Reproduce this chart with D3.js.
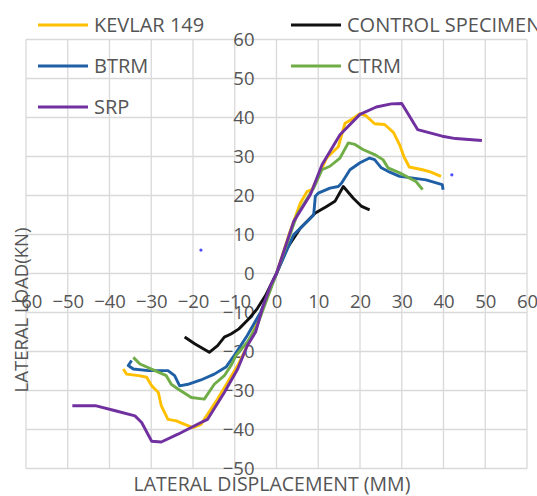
<!DOCTYPE html>
<html>
<head>
<meta charset="utf-8">
<script src="https://cdn.jsdelivr.net/npm/d3@7"></script>
<style>
  body { margin: 0; background: #fff; }
  text { font-family: "Open Sans", sans-serif; fill: #555555; }
</style>
</head>
<body>
<script>
/* series, [displacement mm, load kN] */
var kevlar = [[-36.7,-24.5],[-35.9,-25.8],[-33,-26.2],[-31.1,-26.6],[-29.9,-28.8],[-28.3,-30.5],[-27.6,-33.9],[-26,-37.4],[-24,-37.8],[-22,-38.7],[-20,-39.5],[-18.1,-38.7],[-17.3,-37.4],[-14.1,-32.2],[-11.7,-27.9],[-9.3,-23.6],[-7,-18.5],[-4,-11],[-2,-5],[0,0],[3,10],[5.7,18],[7.3,21],[8.5,21.5],[10,25],[12,29.6],[14.8,32.5],[16.4,38.5],[18,39.5],[20,41],[21.5,40.4],[23.5,38.4],[25.9,38.2],[28,36.2],[29.5,33],[30.5,30],[31.8,27.3],[35,26.6],[37,26],[39.4,24.9]];
var control = [[-22,-16.3],[-19.6,-18],[-16.1,-20.2],[-14.1,-18.5],[-12.5,-16.3],[-10.9,-15.5],[-9,-14.2],[-6.6,-11.6],[-4.6,-9],[-2.6,-5.6],[0,0],[2.5,6.4],[5.7,11.6],[9.3,15.5],[12,17.2],[14,18.5],[16,22.3],[18.4,19.3],[20.4,17.2],[22.3,16.3]];
var btrm = [[-34.7,-22.3],[-35.5,-23.6],[-34.3,-24.5],[-30.7,-24.9],[-26,-24.9],[-24.4,-26.2],[-23.2,-28.8],[-21.2,-28.4],[-18.1,-27.3],[-14.9,-25.8],[-12.1,-24],[-10.1,-21],[-7,-15.9],[-3.8,-9.9],[0,0],[4.1,9.9],[8.9,15],[9.3,19.8],[10,20.6],[12.8,21.9],[14.8,22.3],[15.6,23.2],[17.6,26.6],[20,28.4],[22.3,29.6],[23.5,29.2],[25.1,27.1],[26.7,26.2],[29.5,24.9],[31,24.7],[35.8,24],[39.7,22.8],[39.9,21.5]];
var ctrm = [[-34.3,-21.5],[-32.7,-23.2],[-28.3,-25.3],[-26.4,-26.2],[-25.2,-28.4],[-23.6,-29.6],[-20.4,-31.8],[-17.3,-32.2],[-14.9,-28.4],[-12.5,-26.2],[-10.9,-23.6],[-9.7,-21],[-7,-17.6],[-4.6,-13.3],[0,0],[4.9,15],[8.9,21.9],[10.9,26.6],[12.8,27.5],[15.2,29.6],[17.2,33.5],[18.8,33.1],[20.7,31.8],[23.5,30.5],[25.5,29.2],[26.7,27.1],[29.5,25.8],[33.4,23.6],[35,21.5]];
var srp = [[-48.9,-33.9],[-43.4,-33.9],[-38.6,-35.2],[-33.9,-36.5],[-32.3,-38.2],[-29.9,-43],[-27.6,-43.2],[-23.6,-41.2],[-18.1,-38.2],[-16.5,-37.4],[-12.5,-30.5],[-9.3,-24.5],[-7,-18.5],[-5,-15],[-3.4,-9],[-1.4,-3],[0,0],[4.1,13.3],[8.1,20.2],[10.9,27.9],[15.2,35.6],[20,40.8],[23.9,42.7],[27.5,43.5],[30,43.6],[33.8,36.9],[39.7,35.2],[42.9,34.6],[49.2,34.1]];
var strayPoints = [[-18.1, 6], [42, 25.3]];

var seriesNames = ["KEVLAR 149", "CONTROL SPECIMEN", "BTRM", "CTRM", "SRP"];
var seriesData = [kevlar, control, btrm, ctrm, srp];
var seriesColors = ["#ffc000", "#111111", "#1f5fa6", "#70ad47", "#7030a0"];

var xTicks = [-60, -50, -40, -30, -20, -10, 0, 10, 20, 30, 40, 50, 60];
var yTicks = [-50, -40, -30, -20, -10, 0, 10, 20, 30, 40, 50, 60];

var width = 537, height = 496;
var svg = d3.select("body").append("svg")
    .attr("width", width)
    .attr("height", height);

var x = d3.scaleLinear().domain([-60, 60]).range([26, 527]);
var y = d3.scaleLinear().domain([-50, 60]).range([468.5, 39.5]);

/* grid */
svg.append("g")
    .selectAll("line.v")
    .data(xTicks)
    .enter().append("line")
    .attr("x1", function(d) { return x(d); })
    .attr("x2", function(d) { return x(d); })
    .attr("y1", y(60)).attr("y2", y(-50))
    .attr("stroke", "#d9d9d9").attr("stroke-width", 1.3);
svg.append("g")
    .selectAll("line.h")
    .data(yTicks)
    .enter().append("line")
    .attr("x1", x(-60)).attr("x2", x(60))
    .attr("y1", function(d) { return y(d); })
    .attr("y2", function(d) { return y(d); })
    .attr("stroke", "#d9d9d9").attr("stroke-width", 1.3);

/* axis labels cross at the origin */
var xAxis = svg.append("g")
    .attr("transform", "translate(0," + y(0) + ")")
    .call(d3.axisBottom(x).tickValues(xTicks).tickSize(0).tickPadding(21));
var yAxis = svg.append("g")
    .attr("transform", "translate(" + x(0) + ",0)")
    .call(d3.axisLeft(y).tickValues(yTicks).tickSize(0).tickPadding(22));
[xAxis, yAxis].forEach(function(g) {
    g.select(".domain").remove();
    g.selectAll("text")
        .style("font-family", "'Open Sans', sans-serif")
        .style("font-size", "18.5px")
        .attr("fill", "#555555");
});

/* curves */
var line = d3.line()
    .x(function(d) { return x(d[0]); })
    .y(function(d) { return y(d[1]); });

svg.selectAll("path.series")
    .data(seriesData)
    .enter().append("path")
    .attr("class", "series")
    .attr("d", line)
    .attr("fill", "none")
    .attr("stroke", function(d, i) { return seriesColors[i]; })
    .attr("stroke-width", 2.9)
    .attr("stroke-linejoin", "round");

svg.selectAll("circle.stray")
    .data(strayPoints)
    .enter().append("circle")
    .attr("cx", function(d) { return x(d[0]); })
    .attr("cy", function(d) { return y(d[1]); })
    .attr("r", 1.6)
    .attr("fill", "#4b4bff");

/* axis titles */
svg.append("text")
    .attr("x", 272).attr("y", 491)
    .attr("text-anchor", "middle")
    .style("font-size", "19.5px")
    .text("LATERAL DISPLACEMENT (MM)");
svg.append("text")
    .attr("transform", "translate(28,310) rotate(-90)")
    .attr("text-anchor", "middle")
    .style("font-size", "18.5px")
    .text("LATERAL LOAD(KN)");

/* legend, two columns */
var legendOrder = [0, 1, 2, 3, 4];
var legend = svg.selectAll(".legend")
    .data(legendOrder)
    .enter().append("g")
    .attr("class", "legend")
    .attr("transform", function(d, i) {
        return "translate(" + (i % 2 == 0 ? 38 : 291) + "," + (25 + Math.floor(i / 2) * 41) + ")";
    });
legend.append("line")
    .attr("x1", 0).attr("x2", 50)
    .attr("stroke", function(d) { return seriesColors[d]; })
    .attr("stroke-width", 3);
legend.append("text")
    .attr("x", 56)
    .attr("dy", "0.35em")
    .style("font-size", "20px")
    .text(function(d) { return seriesNames[d]; });
</script>
</body>
</html>
